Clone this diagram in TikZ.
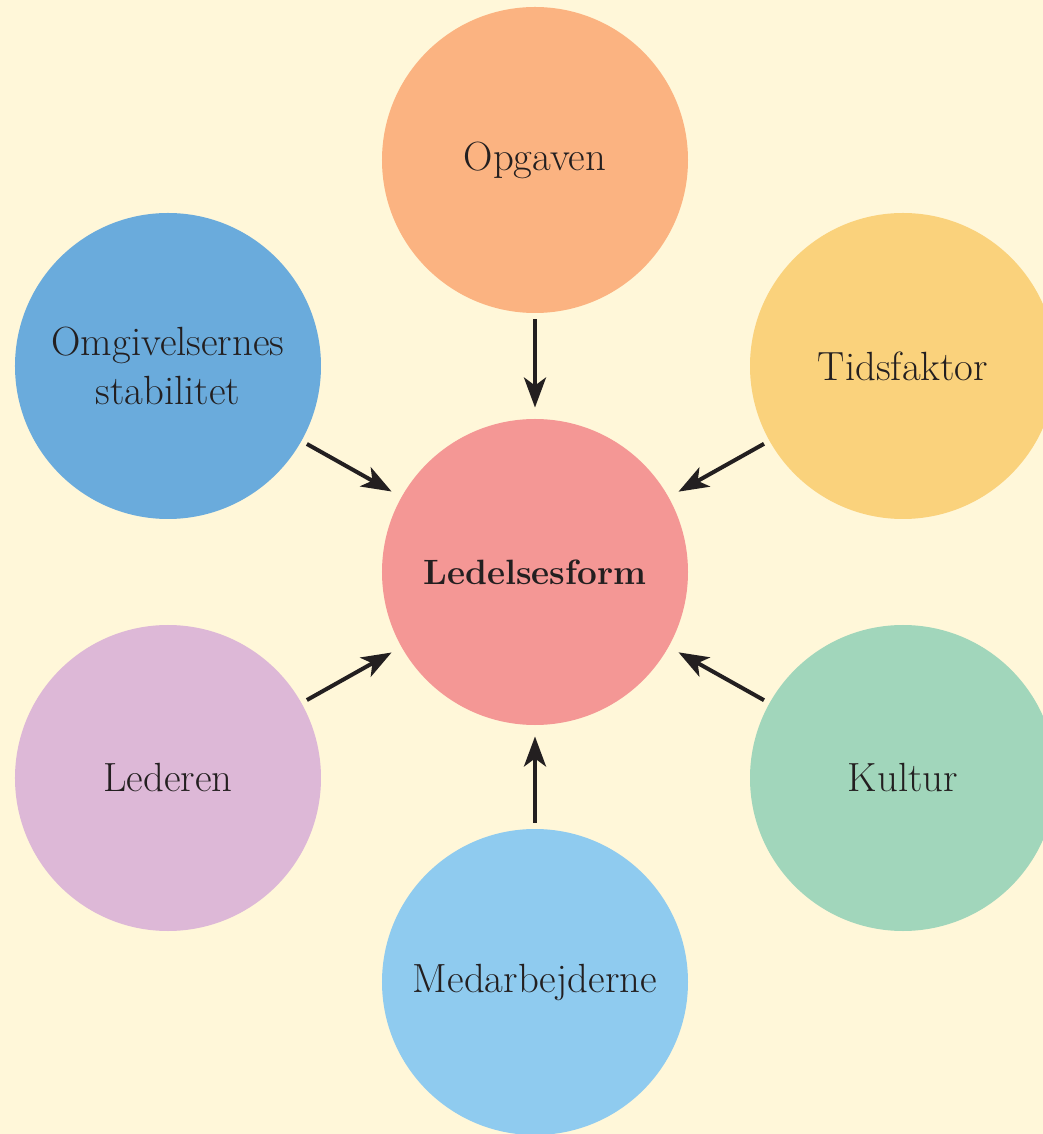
\documentclass[tikz,border=0pt]{standalone}
\usepackage{xcolor}
\usetikzlibrary{arrows.meta,positioning}

\definecolor{paper}{HTML}{FFF7D9}
\definecolor{inkline}{HTML}{231F20}
\definecolor{hubfill}{HTML}{F49795}
\definecolor{taskfill}{HTML}{FBB381}
\definecolor{envfill}{HTML}{6AABDC}
\definecolor{timefill}{HTML}{FAD27C}
\definecolor{leaderfill}{HTML}{DDB8D7}
\definecolor{culturefill}{HTML}{A1D6BB}
\definecolor{stafffill}{HTML}{8FCBEF}

\begin{document}
\begin{tikzpicture}[
        node distance = 10.3cm,
        circle,
        minimum size = 7.65cm,
        inner sep = 0pt,
        factor/.style = {circle, minimum size=7.65cm, align=center,
            text=inkline, font=\fontsize{29}{35}\selectfont},
        hub/.style = {factor, fill=hubfill, font=\fontsize{25}{30}\selectfont\bfseries},
        push/.style = {-{Stealth[length=0.75cm,width=0.55cm,inset=0.2cm]},
            line width=0.1cm, draw=inkline,
            shorten <=0.15cm, shorten >=0.28cm}]

        % background
        \clip (-13.375,-14.05) rectangle (12.7,14.3);
        \fill[paper] (-13.375,-14.05) rectangle (12.7,14.3);

        % NODES
        \node[hub] (form) {Ledelsesform};

        % anchors
        \coordinate[left of = form, node distance = 9.175cm] (anchor_left);
        \coordinate[right of = form, node distance = 9.2cm] (anchor_right);

        % top and bottom
        \node[factor, fill=taskfill, above of = form] (task) {Opgaven};
        \node[factor, fill=stafffill, below of = form, node distance = 10.25cm] (staff) {Medarbejderne};

        % left side
        \node[factor, fill=envfill, above of = anchor_left, node distance = 5.15cm] (env) {Omgivelsernes\\stabilitet};
        \node[factor, fill=leaderfill, below of = anchor_left, node distance = 5.15cm] (leader) {Lederen};

        % right side
        \node[factor, fill=timefill, above of = anchor_right, node distance = 5.15cm] (time) {Tidsfaktor};
        \node[factor, fill=culturefill, below of = anchor_right, node distance = 5.15cm] (culture) {Kultur};

        % ARROWS
        \draw[push] (task)--(form);
        \draw[push] (env)--(form);
        \draw[push] (time)--(form);
        \draw[push] (leader)--(form);
        \draw[push] (culture)--(form);
        \draw[push] (staff)--(form);
\end{tikzpicture}
\end{document}
